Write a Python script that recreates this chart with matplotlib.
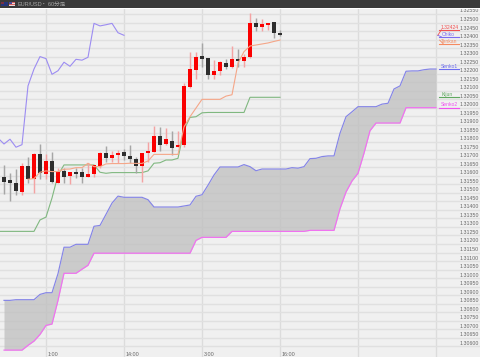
import matplotlib
matplotlib.use("Agg")
import matplotlib.pyplot as plt
from matplotlib.patches import Rectangle

plt.rcParams['font.family'] = ['Liberation Sans', 'Noto Sans CJK JP', 'DejaVu Sans']

title_pair = "EUR/USD"
title_period = "・ 60分足"
time_labels = ["1:00", "14:00", "3:00", "16:00"]
time_label_bars = [7, 20, 33, 46]
vgrid_bars = [7, 20, 33, 46, 59, 72]
price_ticks = [1.32550, 1.32500, 1.32450, 1.32400, 1.32350, 1.32300, 1.32250, 1.32200,
               1.32150, 1.32100, 1.32050, 1.32000, 1.31950, 1.31900, 1.31850, 1.31800,
               1.31750, 1.31700, 1.31650, 1.31600, 1.31550, 1.31500, 1.31450, 1.31400,
               1.31350, 1.31300, 1.31250, 1.31200, 1.31150, 1.31100, 1.31050, 1.31000,
               1.30950, 1.30900, 1.30850, 1.30800, 1.30750, 1.30700, 1.30650, 1.30600]

opens = [1.31595, 1.31576, 1.31557, 1.31507, 1.31658, 1.31582, 1.31729, 1.31611, 1.31687, 1.31560,
         1.31629, 1.31601, 1.31625, 1.31623, 1.31595, 1.31611, 1.31660, 1.31734, 1.31703, 1.31723,
         1.31738, 1.31719, 1.31697, 1.31660, 1.31734, 1.31742, 1.31836, 1.31787, 1.31807, 1.31768,
         1.31781, 1.32124, 1.32222, 1.32304, 1.32290, 1.32192, 1.32216, 1.32264, 1.32241, 1.32286,
         1.32273, 1.32300, 1.32499, 1.32475, 1.32485, 1.32501, 1.32440]
closes = [1.31566, 1.31557, 1.31513, 1.31660, 1.31580, 1.31731, 1.31615, 1.31687, 1.31566, 1.31625,
          1.31595, 1.31623, 1.31609, 1.31595, 1.31611, 1.31662, 1.31734, 1.31703, 1.31723, 1.31734,
          1.31717, 1.31697, 1.31658, 1.31734, 1.31744, 1.31836, 1.31783, 1.31817, 1.31764, 1.31783,
          1.32128, 1.32226, 1.32300, 1.32286, 1.32192, 1.32217, 1.32267, 1.32241, 1.32284, 1.32274,
          1.32295, 1.32499, 1.32475, 1.32491, 1.32499, 1.32437, 1.32425]
highs = [1.31664, 1.31619, 1.31640, 1.31677, 1.31713, 1.31733, 1.31787, 1.31727, 1.31738, 1.31648,
         1.31648, 1.31625, 1.31645, 1.31648, 1.31674, 1.31664, 1.31738, 1.31775, 1.31748, 1.31752,
         1.31756, 1.31781, 1.31713, 1.31736, 1.31797, 1.31895, 1.31889, 1.31879, 1.31865, 1.31864,
         1.32145, 1.32329, 1.32329, 1.32382, 1.32290, 1.32280, 1.32274, 1.32284, 1.32362, 1.32345,
         1.32316, 1.32554, 1.32525, 1.32521, 1.32499, 1.32501, 1.32456]
lows = [1.31494, 1.31454, 1.31488, 1.31488, 1.31557, 1.31501, 1.31580, 1.31580, 1.31557, 1.31557,
        1.31557, 1.31552, 1.31588, 1.31557, 1.31592, 1.31595, 1.31645, 1.31683, 1.31683, 1.31674,
        1.31693, 1.31677, 1.31615, 1.31566, 1.31683, 1.31738, 1.31746, 1.31781, 1.31723, 1.31768,
        1.31771, 1.32114, 1.32167, 1.32241, 1.32169, 1.32167, 1.32192, 1.32227, 1.32232, 1.32241,
        1.32241, 1.32290, 1.32452, 1.32450, 1.32456, 1.32407, 1.32421]

chikou = [1.31822, 1.31787, 1.31815, 1.31768, 1.31783, 1.32128, 1.32227, 1.32300, 1.32288, 1.32196,
          1.32217, 1.32267, 1.32243, 1.32284, 1.32279, 1.32296, 1.32495, 1.32480, 1.32487, 1.32495,
          1.32440, 1.32425]
tenkan = [1.31580, 1.31584, 1.31621, 1.31629, 1.31625, 1.31625, 1.31639, 1.31640, 1.31648, 1.31648,
          1.31674, 1.31654, 1.31654, 1.31670, 1.31672, 1.31672, 1.31672, 1.31674, 1.31673, 1.31673,
          1.31687, 1.31726, 1.31726, 1.31726, 1.31726, 1.31726, 1.31887, 1.31947, 1.31998, 1.32049,
          1.32049, 1.32049, 1.32049, 1.32068, 1.32076, 1.32261, 1.32329, 1.32362, 1.32368, 1.32374,
          1.32380, 1.32389, 1.32397]
kijun = [1.31274, 1.31274, 1.31274, 1.31274, 1.31274, 1.31274, 1.31274, 1.31341, 1.31358, 1.31470,
         1.31605, 1.31664, 1.31664, 1.31664, 1.31664, 1.31664, 1.31664, 1.31621, 1.31615, 1.31619,
         1.31619, 1.31619, 1.31619, 1.31619, 1.31619, 1.31629, 1.31674, 1.31677, 1.31693, 1.31693,
         1.31703, 1.31869, 1.31943, 1.31947, 1.31970, 1.31972, 1.31972, 1.31972, 1.31972, 1.31972,
         1.31972, 1.31972, 1.32061, 1.32061, 1.32061, 1.32061, 1.32061, 1.32061]
senkou_a = [1.30869, 1.30869, 1.30873, 1.30873, 1.30873, 1.30873, 1.30904, 1.30914, 1.30914, 1.31026,
            1.31181, 1.31181, 1.31198, 1.31198, 1.31198, 1.31304, 1.31309, 1.31374, 1.31440, 1.31481,
            1.31474, 1.31474, 1.31474, 1.31474, 1.31460, 1.31417, 1.31417, 1.31417, 1.31417, 1.31417,
            1.31423, 1.31429, 1.31480, 1.31489, 1.31545, 1.31605, 1.31652, 1.31652, 1.31652, 1.31652,
            1.31666, 1.31654, 1.31630, 1.31640, 1.31640, 1.31640, 1.31640, 1.31640, 1.31648, 1.31645,
            1.31654, 1.31701, 1.31703, 1.31713, 1.31717, 1.31717, 1.31850, 1.31947, 1.31976, 1.32006,
            1.32006, 1.32006, 1.32006, 1.32021, 1.32026, 1.32110, 1.32128, 1.32214, 1.32216, 1.32216,
            1.32223, 1.32227, 1.32227]
senkou_b = [1.30577, 1.30577, 1.30577, 1.30577, 1.30605, 1.30630, 1.30669, 1.30722, 1.30730, 1.30869,
            1.31028, 1.31028, 1.31028, 1.31052, 1.31075, 1.31146, 1.31146, 1.31146, 1.31146, 1.31146,
            1.31146, 1.31146, 1.31146, 1.31146, 1.31146, 1.31146, 1.31146, 1.31146, 1.31146, 1.31146,
            1.31146, 1.31146, 1.31221, 1.31239, 1.31239, 1.31239, 1.31239, 1.31239, 1.31274, 1.31274,
            1.31274, 1.31274, 1.31274, 1.31274, 1.31274, 1.31274, 1.31274, 1.31274, 1.31274, 1.31274,
            1.31274, 1.31280, 1.31280, 1.31280, 1.31280, 1.31280, 1.31407, 1.31505, 1.31570, 1.31615,
            1.31733, 1.31865, 1.31910, 1.31910, 1.31910, 1.31910, 1.31910, 1.32000, 1.32000, 1.32000,
            1.32000, 1.32000, 1.32000]
last_price_label = "1.32424"

W, H = 480, 357
PRICE_PER_PX = 0.0000587
fig = plt.figure(figsize=(W / 100, H / 100), dpi=100, facecolor="#f0f0f0")
TOP = 8.5
ax = fig.add_axes([0, 0, 1, 1 - TOP / H])
ax.set_facecolor("#f0f0f0")
for s in ax.spines.values():
    s.set_visible(False)
ax.set_xlim(-4 / 6, 476 / 6)
ax.set_ylim(1.3255 - (H - 14) * PRICE_PER_PX, 1.3255 + (14 - TOP) * PRICE_PER_PX)

ax.set_yticks(price_ticks)
ax.set_xticks(vgrid_bars)
ax.tick_params(length=0, labelleft=False, labelbottom=False)
ax.set_axisbelow(True)
ax.grid(axis="y", color="#e0e0e0", lw=1.0)
ax.grid(axis="x", color="#dcdcdc", lw=1.0)

for v in price_ticks:
    ax.annotate(f"{v:.5f}", xy=(1, v), xycoords=ax.get_yaxis_transform(), xytext=(-1, 3),
                textcoords="offset pixels", ha="right", va="center", fontsize=3.8, color="#666666")
for b, t in zip(time_label_bars, time_labels):
    ax.annotate(t, xy=(b, 0), xycoords=ax.get_xaxis_transform(), xytext=(2, 2.5),
                textcoords="offset pixels", ha="left", va="center", fontsize=3.9, color="#666666")

cloud_x = list(range(len(senkou_a)))
ax.fill_between(cloud_x, senkou_a, senkou_b, color="#bfbfbf", alpha=0.75, lw=0, zorder=1.5)
ax.plot(cloud_x, senkou_a, color="#8585e6", lw=0.85, zorder=2)
ax.plot(cloud_x, senkou_b, color="#f26ef2", lw=0.85, zorder=2)
ax.plot(range(-1, len(chikou) - 1), chikou, color="#9c8cf2", lw=0.8, zorder=2)
ax.plot(range(-1, len(kijun) - 1), kijun, color="#80b880", lw=0.8, zorder=2)

candle_x = list(range(len(opens)))
for i, (o, c, h, l) in enumerate(zip(opens, closes, highs, lows)):
    up = c > o
    ax.vlines(i, l, h, color="#f4a3a3" if up else "#a6a6a6", lw=1.05, zorder=3)
    ax.bar(i, abs(c - o), bottom=min(o, c), width=0.68, color="#fa0000" if up else "#2e2e2e",
           lw=0, zorder=4)
ax.plot(range(4, 4 + len(tenkan)), tenkan, color="#f5a688", lw=0.8, zorder=5)


def tag(text, color, anchor, dy_px, bar_from=72.5, bar_to=75.8, text_bar=72.85):
    level = anchor + dy_px * PRICE_PER_PX
    ax.plot([bar_from, bar_to], [level, level], color=color, lw=0.8, zorder=6)
    ax.annotate(text, xy=(text_bar, level), xytext=(0, 2.7), textcoords="offset pixels",
                ha="left", va="center", fontsize=3.6, color=color, zorder=6)
    return level


tag("Senko1", "#6c6cf0", senkou_a[-1], 0)
tag("Kijun", "#5fa85f", kijun[-1], 0, text_bar=73.0)
tag("Senko2", "#f050f0", senkou_b[-1], 0)
lev = tag(last_price_label, "#f05050", closes[-1], 5.5)
ax.plot([72.3, 72.9], [closes[-1], lev], color="#f05050", lw=0.6, zorder=6)
lev = tag("Chiko", "#7c6cf0", chikou[-1], -1.5, text_bar=73.0)
ax.plot([72.3, 72.9], [chikou[-1], lev], color="#7c6cf0", lw=0.6, zorder=6)
lev = tag("Tenkan", "#f58a60", tenkan[-1], -3.7)
ax.plot([72.6, 73.2], [tenkan[-1], lev], color="#f58a60", lw=0.6, zorder=6)


def px_rect(x, y, w, h, color, zorder=10):
    fig.add_artist(Rectangle((x / W, 1 - (y + h) / H), w / W, h / H, transform=fig.transFigure,
                             facecolor=color, edgecolor="none", zorder=zorder))


px_rect(0, 0, W, 8, "#3a3a3a")
px_rect(0, 8, W, 1.2, "#ffffff")
px_rect(1, 1.5, 6.5, 4.5, "#25357a", 11)
px_rect(1, 1.5, 3, 2, "#7a3040", 12)
px_rect(9, 1.5, 6.5, 4.5, "#e8d8d8", 11)
px_rect(9, 1.5, 6.5, 1, "#d86060", 12)
px_rect(9, 3.5, 6.5, 1, "#d86060", 12)
px_rect(9, 1.5, 3, 2, "#4a4a9a", 13)
fig.text(17 / W, 1 - 4.2 / H, title_pair, fontsize=4.0, color="#a8a8a8", va="center", zorder=12)
fig.text(41 / W, 1 - 4.2 / H, title_period, fontsize=4.0, color="#a8a8a8", va="center", zorder=12)

fig.savefig("out.png", dpi=100, facecolor=fig.get_facecolor())
